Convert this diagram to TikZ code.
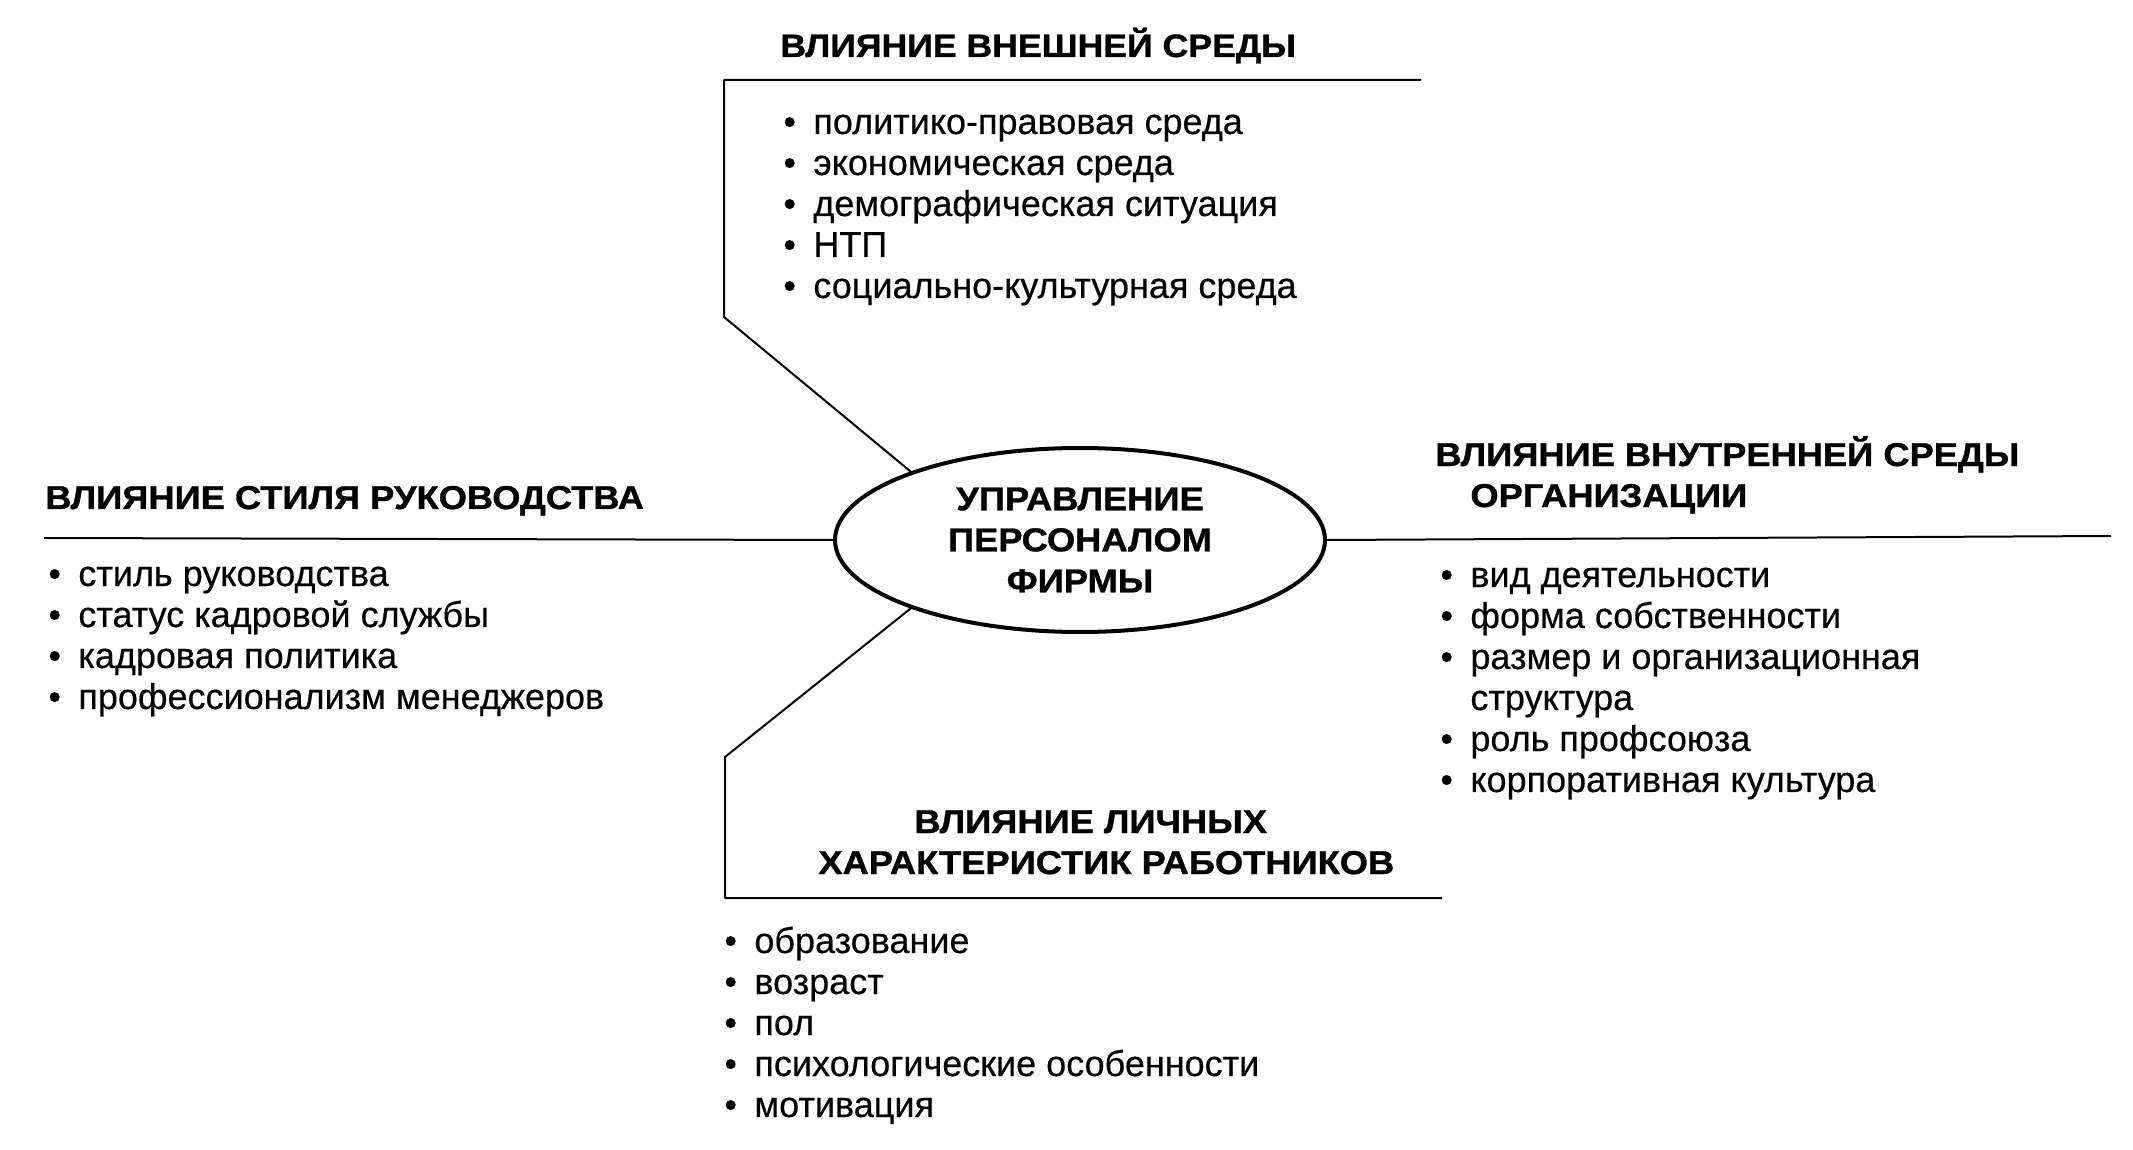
\documentclass[tikz,border=0pt]{standalone}
\usepackage{fontspec}
\setmainfont{Liberation Sans}[FakeBold=0.4]
\newfontfamily\headfont{Liberation Sans}[FakeStretch=1.1,FakeBold=1]
\usetikzlibrary{shapes.geometric}
\newcommand\bul{\makebox[15pt][l]{\textbullet}}
\newcommand\ind{\hspace*{15pt}}
\begin{document}
\begin{tikzpicture}[x=0.5pt,y=-0.5pt,
  conn/.style={line width=1pt, line join=round},
  headtxt/.style={font=\headfont\fontsize{16.5}{20.5}\selectfont\bfseries, inner sep=0, anchor=base west, align=left},
  listtxt/.style={font=\fontsize{18}{20.5}\selectfont, inner sep=0, anchor=base west},
  hub/.style={ellipse, draw, line width=2pt, minimum width=245pt, minimum height=92pt, inner sep=0,
    font=\headfont\fontsize{16.5}{20.5}\selectfont\bfseries, align=center}]
\useasboundingbox (0,0) rectangle (2133,1150);

% central ellipse
\node[hub] (c) at (1080,540) {УПРАВЛЕНИЕ\\ПЕРСОНАЛОМ\\ФИРМЫ};

% headings
\node[headtxt] (hTop) at (780,57) {\fontsize{16.2}{20.5}\selectfont ВЛИЯНИЕ ВНЕШНЕЙ СРЕДЫ};
\node[headtxt] (hLeft) at (45,509) {ВЛИЯНИЕ СТИЛЯ РУКОВОДСТВА};
\node[headtxt] (hRight) at (1435,507) {ВЛИЯНИЕ ВНУТРЕННЕЙ СРЕДЫ\\\hspace*{17.5pt}ОРГАНИЗАЦИИ};
\node[headtxt] (hBot) at (818,874) {\hspace*{48pt}ВЛИЯНИЕ ЛИЧНЫХ\\ХАРАКТЕРИСТИК РАБОТНИКОВ};

% lists
\node[listtxt] (lTop) at (783,134) {\begin{tabular}[t]{@{}l@{}}
\bul политико-правовая среда\\
\bul экономическая среда\\
\bul демографическая ситуация\\
\bul НТП\\
\bul социально-культурная среда
\end{tabular}};
\node[listtxt] (lLeft) at (48,586) {\begin{tabular}[t]{@{}l@{}}
\bul стиль руководства\\
\bul статус кадровой службы\\
\bul кадровая политика\\
\bul профессионализм менеджеров
\end{tabular}};
\node[listtxt] (lRight) at (1440,587) {\begin{tabular}[t]{@{}l@{}}
\bul вид деятельности\\
\bul форма собственности\\
\bul размер и организационная\\
\ind структура\\
\bul роль профсоюза\\
\bul корпоративная культура
\end{tabular}};
\node[listtxt] (lBot) at (724,953) {\begin{tabular}[t]{@{}l@{}}
\bul образование\\
\bul возраст\\
\bul пол\\
\bul психологические особенности\\
\bul мотивация
\end{tabular}};

% connector corner points
\coordinate (t1) at (724,317);
\coordinate (t2) at (724,80);
\coordinate (t3) at (1421,80);
\coordinate (lEnd) at (44,538);
\coordinate (rEnd) at (2111,536);
\coordinate (b1) at (725,757);
\coordinate (b2) at (725,898);
\coordinate (b3) at (1442,898);

\draw[conn] (c.158) -- (t1) -- (t2) -- (t3);
\draw[conn] (c.west) -- (lEnd);
\draw[conn] (c.east) -- (rEnd);
\draw[conn] (c.202) -- (b1) -- (b2) -- (b3);
\end{tikzpicture}
\end{document}
